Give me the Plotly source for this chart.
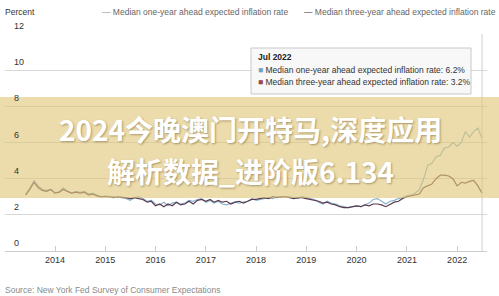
import pandas as pd
import plotly.graph_objects as go

months = pd.date_range("2013-06-01", "2022-07-01", freq="MS")

one_year = [
    3.1, 3.5, 3.9, 3.6, 3.4, 3.35, 3.4,
    3.2, 3.3, 3.5, 3.3, 3.2, 3.3, 3.25, 3.3, 3.15, 3.2, 3.1, 3.0,
    3.05, 3.0, 3.0, 2.95, 3.0, 2.9, 2.8, 2.95, 3.0, 2.9, 2.75, 2.8,
    2.6, 2.55, 2.7, 2.5, 2.65, 2.7, 2.6, 2.65, 2.8, 2.75, 2.85, 2.9,
    2.7, 2.8, 2.65, 2.75, 2.6, 2.55, 2.65, 2.7, 2.65, 2.7, 2.75, 2.9,
    2.8, 2.85, 2.9, 2.95, 2.9, 3.0, 2.95, 3.0, 3.0, 2.95, 2.9, 3.0,
    2.95, 2.9, 2.85, 2.7, 2.6, 2.75, 2.65, 2.6, 2.5, 2.45, 2.4, 2.45,
    2.5, 2.45, 2.55, 2.65, 2.85, 2.9, 2.75, 2.6, 2.75, 2.8, 2.9, 2.95,
    3.05, 3.1, 3.2, 3.4, 3.95, 4.75, 4.85, 5.2, 5.3, 5.7, 5.75, 6.0,
    5.8, 6.0, 6.6, 6.3, 6.6, 6.8, 6.2,
]
three_year = [
    3.1, 3.4, 3.8, 3.5, 3.35, 3.3, 3.4,
    3.2, 3.25, 3.4, 3.3, 3.2, 3.25, 3.2, 3.25, 3.1, 3.15, 3.05, 3.0,
    3.0, 3.0, 2.95, 3.0, 2.95, 2.95, 2.9, 2.95, 2.9, 2.85, 2.7, 2.75,
    2.5, 2.6, 2.45, 2.6, 2.5, 2.7, 2.55, 2.6, 2.75, 2.6, 2.8, 2.85,
    2.75, 2.85, 2.7, 2.8, 2.7, 2.75, 2.6, 2.7, 2.75, 2.65, 2.75, 2.85,
    2.85, 2.9, 2.95, 2.9, 3.0, 2.95, 3.0, 3.0, 2.95, 2.9, 2.95, 2.95,
    2.9, 2.85, 2.8, 2.75, 2.65, 2.7, 2.6, 2.55, 2.45, 2.4, 2.4, 2.45,
    2.5, 2.45, 2.55, 2.5, 2.6, 2.6, 2.55, 2.45, 2.6, 2.7, 2.75, 2.9,
    3.0, 3.05, 3.1, 3.15, 3.5, 3.6, 3.7, 4.0, 4.2, 4.2, 4.15, 4.0,
    3.6, 3.8, 3.75, 3.85, 3.9, 3.6, 3.2,
]

series_names = ["Median one-year ahead expected inflation rate",
                "Median three-year ahead expected inflation rate"]
series_colors = ["#86b4d0", "#5c3a4c"]
tick_years = ["2014", "2015", "2016", "2017", "2018", "2019", "2020", "2021", "2022"]
y_ticks = [0, 2, 4, 6, 8, 10, 12]
hover_month = "2022-07-01"
hover_label = "Jul 2022"
banner_lines = ["2024今晚澳门开特马,深度应用", "解析数据_进阶版6.134"]

W, H = 499, 296
L, R, T, B = 5, 12, 34, 45
PW, PH = W - L - R, H - T - B


def px(x):
    return (x - L) / PW


def py(y):
    return (H - B - y) / PH


fig = go.Figure()
for name, vals, col in zip(series_names, [one_year, three_year], series_colors):
    fig.add_trace(go.Scatter(x=months, y=vals, mode="lines", name=name,
                             line=dict(color=col, width=1.2), showlegend=False))

fig.update_layout(
    width=W, height=H, margin=dict(l=L, r=R, t=T, b=B),
    paper_bgcolor="white", plot_bgcolor="white",
    font=dict(family="Liberation Sans, Arial", size=9, color="#333"),
    xaxis=dict(range=["2013-01-02", "2022-08-06"], showgrid=False,
               tickvals=[f"{y}-01-01" for y in tick_years], ticktext=tick_years,
               ticks="inside", ticklen=5, tickcolor="#ccc", showline=True,
               linecolor="#ccc", linewidth=1, tickfont=dict(size=9, color="#333"),
               zeroline=False),
    yaxis=dict(range=[0, 12], tickvals=y_ticks, showgrid=True, gridcolor="#d8d8d8",
               showticklabels=False, zeroline=False, showline=False),
)

shapes = []
# hover crosshair
shapes.append(dict(type="line", xref="x", yref="paper", x0=hover_month, x1=hover_month,
                   y0=0, y1=1, line=dict(color="#cfcfcf", width=1)))
# tooltip box
shapes.append(dict(type="rect", xref="paper", yref="paper", x0=px(251), x1=px(471),
                   y0=py(94), y1=py(48), fillcolor="rgba(248,248,248,0.95)",
                   line=dict(color="#c8c8c8", width=1), layer="above"))
# overlay band
shapes.append(dict(type="rect", xref="paper", yref="paper", x0=px(-2), x1=px(501),
                   y0=py(198), y1=py(97), fillcolor="rgba(224,198,120,0.62)",
                   line=dict(width=0), layer="above"))
fig.update_layout(shapes=shapes)

ann = []
for v in y_ticks:
    ann.append(dict(xref="paper", yref="y", x=px(12), y=v, text=str(v),
                    showarrow=False, xanchor="left", yanchor="bottom", yshift=1,
                    font=dict(size=9, color="#333")))
ann.append(dict(xref="paper", yref="paper", x=px(3), y=py(12), text="Percent",
                showarrow=False, xanchor="left", yanchor="middle",
                font=dict(size=8.5, color="#333")))
ann.append(dict(xref="paper", yref="paper", x=px(100), y=py(12),
                text=f"<span style='color:#888'>—</span> {series_names[0]}",
                showarrow=False, xanchor="left", yanchor="middle",
                font=dict(size=8.5, color="#666")))
ann.append(dict(xref="paper", yref="paper", x=px(302), y=py(12),
                text=f"<span style='color:#333'>—</span> {series_names[1]}",
                showarrow=False, xanchor="left", yanchor="middle",
                font=dict(size=8.5, color="#666")))
ann.append(dict(xref="paper", yref="paper", x=px(256), y=py(57), text=f"<b>{hover_label}</b>",
                showarrow=False, xanchor="left", yanchor="middle",
                font=dict(size=8.5, color="#222")))
ann.append(dict(xref="paper", yref="paper", x=px(256), y=py(70),
                text=f"<span style='color:#6fa3c4'>■</span> {series_names[0]}: {one_year[-1]}%",
                showarrow=False, xanchor="left", yanchor="middle",
                font=dict(size=8.5, color="#333")))
ann.append(dict(xref="paper", yref="paper", x=px(256), y=py(82),
                text=f"<span style='color:#9a4848'>■</span> {series_names[1]}: {three_year[-1]}%",
                showarrow=False, xanchor="left", yanchor="middle",
                font=dict(size=8.5, color="#333")))
ann.append(dict(xref="paper", yref="paper", x=px(3), y=py(290),
                text="Source: New York Fed Survey of Consumer Expectations",
                showarrow=False, xanchor="left", yanchor="middle",
                font=dict(size=8.5, color="#8a8a8a")))
for line_text, ypix in zip(banner_lines, [129, 171]):
    ann.append(dict(xref="paper", yref="paper", x=px(250), y=py(ypix),
                    text=f"<b>{line_text}</b>",
                    showarrow=False, xanchor="center", yanchor="middle",
                    font=dict(size=28, color="white", family="Noto Sans CJK SC",
                              shadow="1px 1px 2px rgba(90,70,30,0.45)")))
fig.update_layout(annotations=ann)

fig.write_html("out.html")
